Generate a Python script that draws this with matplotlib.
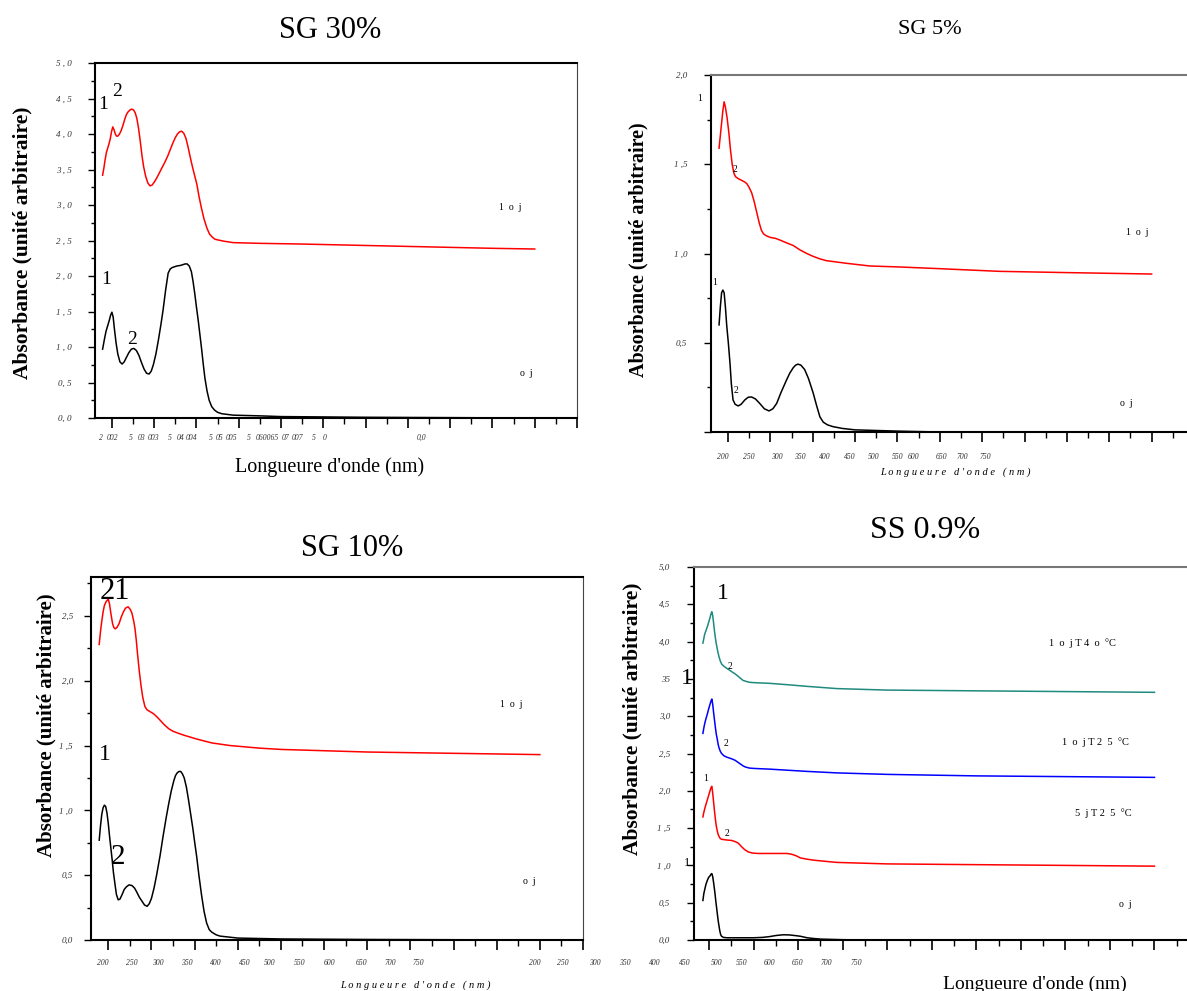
import matplotlib.pyplot as plt
import numpy as np
from matplotlib.transforms import ScaledTranslation

plt.rcParams['font.family'] = ['Liberation Serif', 'DejaVu Serif']

# ---- data (wavelength in nm, absorbance in arbitrary units) ----
# SG 30%
sg30_red_x = [178, 181, 184, 187, 190, 193, 196, 199, 202, 205, 208, 211, 214, 218, 222, 226, 230, 234, 238, 243,
              247, 251, 255, 259, 263, 267, 271, 275, 280, 285, 290, 295, 300, 306, 312, 318, 325, 332, 338, 344,
              350, 355, 360, 365, 370, 375, 380, 385, 390, 395, 401, 406, 412, 418, 425, 431, 437, 443, 449, 465,
              487, 550, 650, 800, 950, 1100, 1200]
sg30_red_y = [3.42, 3.52, 3.64, 3.74, 3.80, 3.86, 3.93, 4.03, 4.10, 4.06, 4.00, 3.97, 3.97, 4.00, 4.05, 4.12, 4.20,
              4.27, 4.31, 4.34, 4.35, 4.34, 4.30, 4.22, 4.08, 3.90, 3.70, 3.54, 3.40, 3.31, 3.27, 3.28, 3.32, 3.38,
              3.45, 3.52, 3.60, 3.69, 3.78, 3.87, 3.95, 4.00, 4.03, 4.04, 4.01, 3.94, 3.82, 3.68, 3.55, 3.43, 3.29,
              3.12, 2.95, 2.80, 2.67, 2.59, 2.55, 2.52, 2.51, 2.49, 2.47, 2.46, 2.45, 2.43, 2.41, 2.39, 2.38]
sg30_blk_x = [178, 182, 186, 190, 194, 197, 200, 203, 206, 210, 214, 219, 224, 229, 234, 240, 246, 252, 258, 264,
              270, 276, 282, 288, 293, 298, 304, 310, 316, 321, 327, 333, 338, 343, 353, 363, 368, 373, 378, 383,
              388, 392, 396, 400, 404, 408, 412, 416, 420, 425, 430, 436, 443, 450, 460, 487, 550, 600, 800, 1000,
              1200]
sg30_blk_y = [0.97, 1.10, 1.22, 1.30, 1.38, 1.45, 1.49, 1.42, 1.25, 1.05, 0.90, 0.79, 0.76, 0.79, 0.85, 0.92, 0.97,
              0.98, 0.95, 0.88, 0.78, 0.69, 0.63, 0.62, 0.66, 0.75, 0.90, 1.10, 1.32, 1.52, 1.80, 2.04, 2.10, 2.12,
              2.14, 2.15, 2.16, 2.17, 2.17, 2.14, 2.06, 1.92, 1.75, 1.56, 1.38, 1.18, 0.98, 0.76, 0.56, 0.38, 0.25,
              0.16, 0.11, 0.08, 0.06, 0.04, 0.03, 0.02, 0.01, 0.005, 0.0]

# SG 5%
sg5_red_x = [179, 182, 185, 188, 191, 194, 198, 202, 206, 210, 214, 218, 224, 232, 240, 245, 250, 256, 262, 268,
             274, 279, 284, 290, 300, 312, 323, 338, 354, 370, 386, 400, 417, 432, 448, 480, 535, 600, 700, 841,
             1000, 1200]
sg5_red_y = [1.59, 1.66, 1.73, 1.80, 1.85, 1.82, 1.76, 1.68, 1.58, 1.50, 1.45, 1.43, 1.42, 1.41, 1.40, 1.39, 1.37,
             1.34, 1.29, 1.23, 1.17, 1.13, 1.11, 1.10, 1.09, 1.085, 1.075, 1.06, 1.045, 1.02, 1.00, 0.985, 0.97,
             0.96, 0.955, 0.945, 0.93, 0.925, 0.915, 0.90, 0.893, 0.885]
sg5_blk_x = [179, 182, 185, 188, 191, 194, 197, 201, 205, 208, 212, 217, 224, 231, 240, 248, 256, 265, 275, 286,
             297, 306, 315, 325, 338, 346, 354, 360, 365, 372, 381, 390, 401, 409, 417, 425, 435, 448, 470, 500,
             600, 700]
sg5_blk_y = [0.60, 0.70, 0.78, 0.795, 0.78, 0.70, 0.60, 0.497, 0.38, 0.27, 0.18, 0.155, 0.146, 0.155, 0.18, 0.195,
             0.196, 0.185, 0.16, 0.13, 0.118, 0.13, 0.16, 0.22, 0.29, 0.33, 0.36, 0.375, 0.38, 0.375, 0.35, 0.30,
             0.22, 0.15, 0.085, 0.055, 0.04, 0.03, 0.02, 0.012, 0.005, 0.0]

# SG 10%
sg10_red_x = [179, 182, 185, 188, 191, 195, 200, 203, 206, 210, 213, 216, 220, 225, 230, 235, 240, 246, 251, 255,
              259, 262, 265, 268, 272, 276, 280, 285, 290, 295, 300, 305, 310, 316, 323, 330, 340, 350, 362, 375,
              390, 405, 440, 482, 550, 600, 800, 1000, 1200]
sg10_red_y = [2.28, 2.38, 2.46, 2.53, 2.58, 2.61, 2.63, 2.59, 2.52, 2.44, 2.41, 2.40, 2.41, 2.44, 2.49, 2.53, 2.56,
              2.57, 2.55, 2.52, 2.46, 2.40, 2.31, 2.20, 2.07, 1.96, 1.87, 1.80, 1.775, 1.765, 1.755, 1.745, 1.73,
              1.71, 1.685, 1.66, 1.63, 1.61, 1.595, 1.58, 1.565, 1.55, 1.52, 1.50, 1.48, 1.47, 1.45, 1.44, 1.43]
sg10_blk_x = [179, 182, 185, 188, 191, 194, 197, 200, 203, 206, 209, 212, 216, 219, 223, 227, 232, 237, 242, 248,
              255, 261, 266, 272, 278, 284, 290, 295, 300, 306, 312, 320, 327, 334, 340, 346, 352, 356, 360, 364,
              368, 372, 376, 381, 386, 391, 396, 400, 405, 410, 416, 422, 428, 434, 440, 450, 459, 500, 600, 800,
              1000, 1200]
sg10_blk_y = [0.77, 0.88, 0.97, 1.02, 1.04, 1.03, 0.98, 0.90, 0.80, 0.71, 0.62, 0.52, 0.42, 0.35, 0.31, 0.315, 0.35,
              0.39, 0.41, 0.425, 0.42, 0.40, 0.37, 0.33, 0.30, 0.27, 0.26, 0.28, 0.32, 0.40, 0.50, 0.65, 0.80, 0.94,
              1.05, 1.15, 1.23, 1.27, 1.29, 1.30, 1.30, 1.28, 1.25, 1.18, 1.08, 0.97, 0.86, 0.76, 0.64, 0.50, 0.35,
              0.22, 0.13, 0.08, 0.06, 0.04, 0.03, 0.015, 0.008, 0.004, 0.002, 0.0]

# SS 0.9%
ss_teal_x = [186, 188, 190, 193, 196, 199, 202, 204, 206, 208, 210, 212, 214, 216, 218, 220, 222, 225, 228, 233,
             240, 250, 260, 270, 276, 281, 290, 300, 337, 380, 420, 487, 600, 800, 1000, 1200]
ss_teal_y = [3.98, 4.04, 4.10, 4.15, 4.20, 4.26, 4.32, 4.37, 4.40, 4.35, 4.25, 4.14, 4.05, 3.97, 3.91, 3.85, 3.80,
             3.74, 3.70, 3.67, 3.64, 3.60, 3.56, 3.51, 3.48, 3.47, 3.455, 3.45, 3.44, 3.42, 3.40, 3.37, 3.35, 3.34,
             3.33, 3.32]
ss_blue_x = [186, 188, 190, 193, 196, 199, 202, 204, 206, 208, 210, 212, 214, 216, 218, 220, 222, 225, 228, 233,
             240, 250, 258, 270, 276, 281, 290, 300, 337, 420, 487, 600, 800, 1000, 1200]
ss_blue_y = [2.77, 2.84, 2.90, 2.97, 3.03, 3.10, 3.16, 3.20, 3.23, 3.16, 3.05, 2.95, 2.85, 2.76, 2.70, 2.63, 2.58,
             2.53, 2.50, 2.47, 2.45, 2.43, 2.41, 2.36, 2.335, 2.32, 2.305, 2.30, 2.29, 2.26, 2.24, 2.22, 2.20,
             2.19, 2.18]
ss_red_x = [186, 188, 191, 194, 197, 200, 202, 204, 206, 208, 210, 212, 214, 216, 218, 220, 222, 225, 228, 240, 250,
            258, 265, 273, 280, 288, 298, 310, 337, 375, 385, 395, 405, 418, 435, 460, 487, 600, 800, 1000, 1200]
ss_red_y = [1.65, 1.71, 1.78, 1.84, 1.90, 1.96, 2.00, 2.04, 2.06, 1.97, 1.85, 1.73, 1.62, 1.53, 1.47, 1.42, 1.39,
            1.36, 1.35, 1.34, 1.335, 1.32, 1.30, 1.25, 1.21, 1.18, 1.165, 1.16, 1.16, 1.16, 1.15, 1.13, 1.10,
            1.085, 1.07, 1.055, 1.04, 1.02, 1.01, 1.00, 0.99]
ss_blk_x = [186, 188, 191, 193, 196, 199, 202, 204, 206, 208, 210, 213, 215, 217, 219, 221, 224, 226, 228, 232, 240,
            260, 300, 320, 335, 350, 366, 380, 395, 405, 420, 435, 450, 500, 550]
ss_blk_y = [0.53, 0.62, 0.70, 0.75, 0.80, 0.84, 0.86, 0.88, 0.89, 0.85, 0.77, 0.63, 0.52, 0.42, 0.32, 0.23, 0.12,
            0.07, 0.05, 0.035, 0.03, 0.03, 0.03, 0.035, 0.045, 0.06, 0.07, 0.068, 0.058, 0.05, 0.03, 0.02, 0.012,
            0.004, 0.0]

titles = ['SG 30%', 'SG 5%', 'SG 10%', 'SS 0.9%']
ylabel = 'Absorbance (unité arbitraire)'
xlabel = "Longueure d'onde (nm)"
xlabel_spaced = "L o n g u e u r e   d ' o n d e   ( n m )"
nm_labels = ['200', '250', '300', '350', '400', '450', '500', '550', '600', '650', '700', '750']
sg30_xlabels = ['2', '002', '5', '03', '003', '5', '04', '004', '5', '05', '005', '5', '060065', '07', '007', '5',
                '0', '0,0']

W, H = 1187, 991
fig = plt.figure(figsize=(W / 100, H / 100), dpi=100)


def rect(left, top, right, bottom):
    return [left / W, 1 - bottom / H, (right - left) / W, (bottom - top) / H]


def ftext(x, y, s, **kw):
    fig.text(x / W, 1 - y / H, s, **kw)


def setup(ax, xmin, ymax, ylabels, ydown, top_color, show_right, pad=12):
    ax.set_xlim(xmin, 1300)
    ax.set_ylim(0, ymax)
    ax.set_xticks(np.arange(200, 1301, 100))
    ax.set_xticks(np.arange(250, 1301, 100), minor=True)
    ax.set_xticklabels([])
    ax.set_yticks(np.arange(0, ymax + 0.01, 0.5))
    ax.set_yticks(np.arange(0.25, ymax, 0.5), minor=True)
    ax.set_yticklabels(ylabels, fontsize=6.5, style='italic', color='#333333')
    off = ScaledTranslation(0, -ydown / 100, fig.dpi_scale_trans)
    for lab in ax.get_yticklabels():
        lab.set_transform(lab.get_transform() + off)
    ax.tick_params(axis='x', which='major', direction='out', length=7, width=1.2)
    ax.tick_params(axis='x', which='minor', direction='out', length=4, width=1)
    ax.tick_params(axis='y', which='major', direction='out', length=5, width=1, pad=pad)
    ax.tick_params(axis='y', which='minor', direction='out', length=3, width=1)
    for s in ['left', 'bottom']:
        ax.spines[s].set_linewidth(1.5)
    ax.spines['top'].set_color(top_color)
    ax.spines['top'].set_linewidth(1.5)
    ax.spines['right'].set_visible(show_right)
    ax.spines['right'].set_color('#444444')


def curve(ax, x, y, color):
    ax.plot(x, y, color=color, lw=1.1, solid_joinstyle='round')


# ---- SG 30% ----
ax1 = fig.add_axes(rect(95, 63, 577, 418))
curve(ax1, sg30_red_x, sg30_red_y, 'red')
curve(ax1, sg30_blk_x, sg30_blk_y, 'black')
setup(ax1, 160, 5.0, ['0, 0', '0, 5', '1 , 0', '1 , 5', '2 , 0', '2 , 5', '3 , 0', '3 , 5', '4 , 0', '4 , 5',
                      '5 , 0'], 10, 'black', True)
ax1.text(179, 4.41, '1', fontsize=14, ha='center', va='center')
ax1.text(212, 4.6, '2', fontsize=14, ha='center', va='center')
ax1.text(186, 1.95, '1', fontsize=14, ha='center', va='center')
ax1.text(247, 1.11, '2', fontsize=14, ha='center', va='center')
ax1.text(1143, 2.96, '1  o  j', fontsize=7, ha='center', va='center')
ax1.text(1179, 0.63, 'o  j', fontsize=7, ha='center', va='center')
for s, x in zip(sg30_xlabels, [101, 113, 131, 142, 154, 170, 181, 192, 211, 220, 232, 249, 267, 286, 298, 314,
                               325, 422]):
    ftext(x, 438, s, fontsize=5.5, style='italic', ha='center', va='center', color='#333333')
ftext(330, 30, titles[0], fontsize=22, ha='center', va='center')
ftext(330, 467, xlabel, fontsize=14.5, ha='center', va='center')
ftext(22, 243, ylabel, fontsize=15.5, fontweight='bold', rotation=90, ha='center', va='center')

# ---- SG 5% ----
ax2 = fig.add_axes(rect(711, 75, 1194, 432))
curve(ax2, sg5_red_x, sg5_red_y, 'red')
curve(ax2, sg5_blk_x, sg5_blk_y, 'black')
setup(ax2, 160, 2.0, ['', '0,5', '1 ,0', '1 ,5', '2,0'], 6, '#777777', False)
ax2.text(132, 1.87, '1', fontsize=7, ha='center', va='center', clip_on=False)
ax2.text(216, 1.47, '2', fontsize=7, ha='center', va='center')
ax2.text(169, 0.84, '1', fontsize=7, ha='center', va='center')
ax2.text(219, 0.235, '2', fontsize=7, ha='center', va='center')
ax2.text(1167, 1.12, '1  o  j', fontsize=7, ha='center', va='center')
ax2.text(1141, 0.16, 'o  j', fontsize=7, ha='center', va='center')
for s, x in zip(nm_labels, [723, 749, 777, 800, 825, 850, 874, 898, 913, 941, 962, 985]):
    ftext(x, 457, s, fontsize=5.5, style='italic', ha='center', va='center', color='#333333')
ftext(930, 30, titles[1], fontsize=16, ha='center', va='center')
ftext(955, 472, xlabel_spaced, fontsize=7.5, style='italic', ha='center', va='center')
ftext(638, 250, ylabel, fontsize=14.5, fontweight='bold', rotation=90, ha='center', va='center')

# ---- SG 10% ----
ax3 = fig.add_axes(rect(91, 577, 583, 940))
curve(ax3, sg10_red_x, sg10_red_y, 'red')
curve(ax3, sg10_blk_x, sg10_blk_y, 'black')
setup(ax3, 160, 2.8, ['0,0', '0,5', '1 ,0', '1 ,5', '2,0', '2,5'], 0, 'black', True, pad=8)
ax3.text(216, 2.69, '21', fontsize=22, ha='center', va='center')
ax3.text(193, 1.43, '1', fontsize=17, ha='center', va='center')
ax3.text(223, 0.64, '2', fontsize=21, ha='center', va='center')
ax3.text(1133, 1.82, '1  o  j', fontsize=7, ha='center', va='center')
ax3.text(1175, 0.45, 'o  j', fontsize=7, ha='center', va='center')
for s, x in zip(nm_labels, [103, 132, 158, 187, 216, 245, 270, 300, 330, 362, 390, 418]):
    ftext(x, 963, s, fontsize=5.5, style='italic', ha='center', va='center', color='#333333')
ftext(352, 548, titles[2], fontsize=22, ha='center', va='center')
ftext(415, 985, xlabel_spaced, fontsize=7.5, style='italic', ha='center', va='center')
ftext(46, 725, ylabel, fontsize=15, fontweight='bold', rotation=90, ha='center', va='center')

# ---- SS 0.9% ----
ax4 = fig.add_axes(rect(694, 567, 1199, 940))
curve(ax4, ss_teal_x, ss_teal_y, '#1f8a80')
curve(ax4, ss_blue_x, ss_blue_y, 'blue')
curve(ax4, ss_red_x, ss_red_y, 'red')
curve(ax4, ss_blk_x, ss_blk_y, 'black')
setup(ax4, 166, 5.0, ['0,0', '0,5', '1 ,0', '1 ,5', '2,0', '2,5', '3,0', '35', '4,0', '4,5', '5,0'], 5,
      '#777777', False)
ax4.text(231, 4.64, '1', fontsize=17, ha='center', va='center')
ax4.text(151, 3.51, '1', fontsize=17, ha='center', va='center', clip_on=False)
ax4.text(247, 3.67, '2', fontsize=7, ha='center', va='center')
ax4.text(238, 2.64, '2', fontsize=7, ha='center', va='center')
ax4.text(193, 2.17, '1', fontsize=7, ha='center', va='center')
ax4.text(240, 1.43, '2', fontsize=7, ha='center', va='center')
ax4.text(151, 1.03, '1', fontsize=9, ha='center', va='center', clip_on=False)
ax4.text(1038, 3.98, '1  o  j T 4  o  °C', fontsize=7.5, ha='center', va='center')
ax4.text(1067, 2.65, '1  o  j T 2  5  °C', fontsize=7.5, ha='center', va='center')
ax4.text(1085, 1.70, '5  j T 2  5  °C', fontsize=7.5, ha='center', va='center')
ax4.text(1135, 0.47, 'o  j', fontsize=7, ha='center', va='center')
for s, x in zip(nm_labels, [535, 563, 595, 625, 655, 685, 717, 742, 770, 797, 826, 856]):
    ftext(x, 963, s, fontsize=5.5, style='italic', ha='center', va='center', color='#333333')
ftext(925, 530, titles[3], fontsize=23, ha='center', va='center')
ftext(1035, 984, xlabel, fontsize=14, ha='center', va='center')
ftext(632, 719, ylabel, fontsize=15.5, fontweight='bold', rotation=90, ha='center', va='center')

fig.savefig('out.png', dpi=100)
